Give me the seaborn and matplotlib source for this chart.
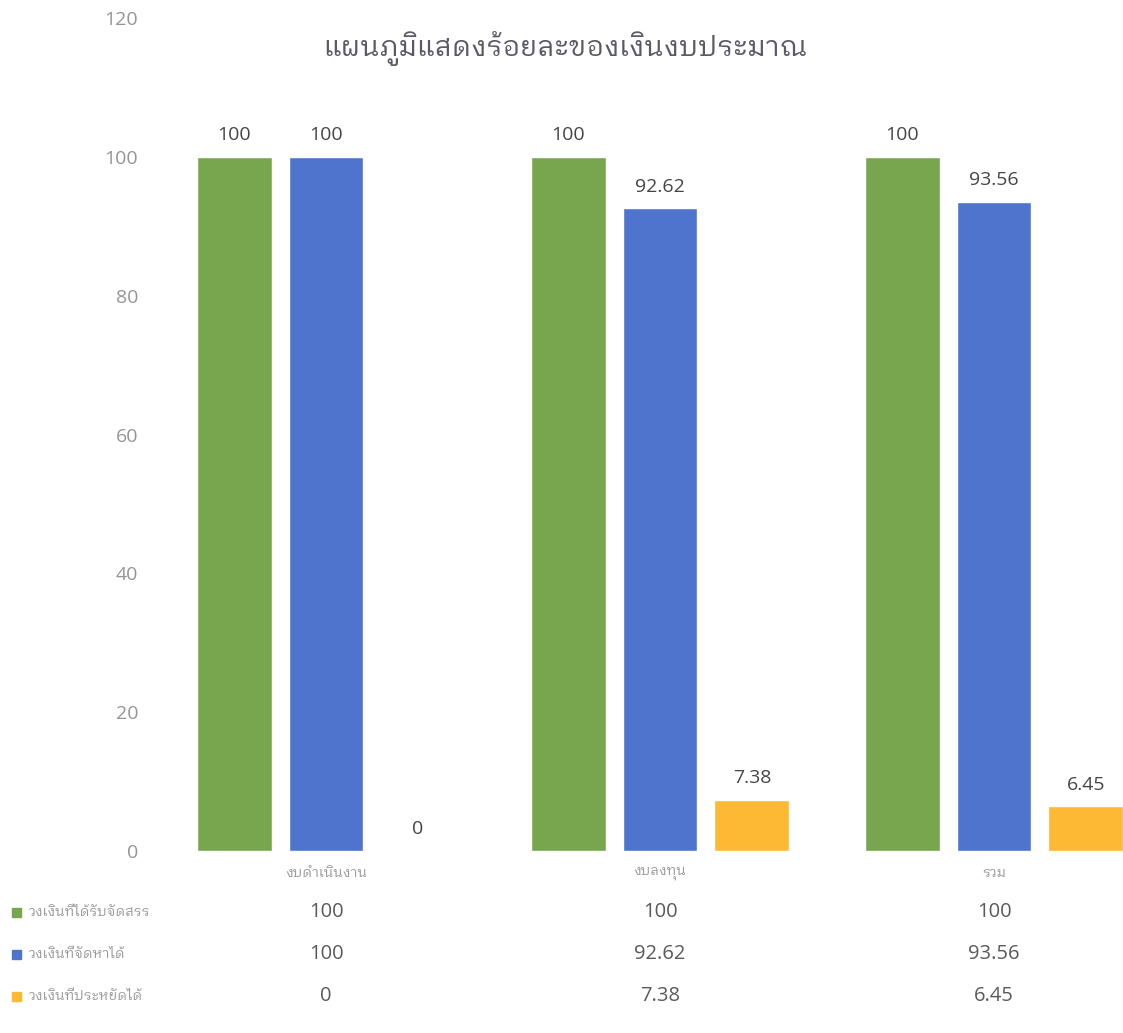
import matplotlib
matplotlib.use("Agg")
import matplotlib.pyplot as plt
import matplotlib.transforms as mtrans
import pandas as pd
import seaborn as sns

# ข้อมูลจากภาพ
categories = ["งบดำเนินงาน", "งบลงทุน", "รวม"]
series_names = ["วงเงินที่ได้รับจัดสรร", "วงเงินที่จัดหาได้", "วงเงินที่ประหยัดได้"]
allocated = [100, 100, 100]
procured = [100, 92.62, 93.56]
saved = [0, 7.38, 6.45]
y_ticks = [0, 20, 40, 60, 80, 100, 120]
title = "แผนภูมิแสดงร้อยละของเงินงบประมาณ"

colors = ["#77A64E", "#4E74CE", "#FDB933"]
THAI = ["IBM Plex Sans Thai Looped", "DejaVu Sans"]
NUM = ["Open Sans", "DejaVu Sans"]

values = [allocated, procured, saved]
rows = []
for name, vals in zip(series_names, values):
    for cat, v in zip(categories, vals):
        rows.append({"category": cat, "series": name, "value": v})
df = pd.DataFrame(rows)

sns.set_style("white")
plt.rcParams["font.family"] = THAI

W, H = 1123, 1033
fig = plt.figure(figsize=(W / 100, H / 100), dpi=100)
left, right, bottom, top = 159, 1123, 851, 18
ax = fig.add_axes([left / W, (H - bottom) / H, (right - left) / W, (bottom - top) / H])

sns.barplot(data=df, x="category", y="value", hue="series",
            order=categories, hue_order=series_names, palette=colors,
            width=0.826, gap=0.185, saturation=1, legend=False, ax=ax)

for cont in ax.containers:
    labels = [f"{b.get_height():g}" for b in cont]
    ax.bar_label(cont, labels=labels, padding=9, fontsize=14,
                 color="#454545", family=NUM)

ax.set_xlim(-0.5, (right - 326) / 334)
ax.set_ylim(0, 120)
ax.set_yticks(y_ticks)
ax.set_yticklabels([str(t) for t in y_ticks], family=NUM, fontsize=14, color="#959595")
ax.tick_params(axis="y", length=0, pad=15)
ax.tick_params(axis="x", length=0, pad=11)
ax.set_xticks(range(len(categories)))
ax.set_xticklabels(categories, fontsize=10, color="#9A9A9A")
ax.set_xlabel("")
ax.set_ylabel("")
for s in ax.spines.values():
    s.set_visible(False)

fig.text(565 / W, 1 - 48 / H, title, ha="center", va="center",
         fontsize=20, color="#5A5A66")

# ตารางข้อมูลใต้กราฟ
row_y = [912, 954, 996]
trans = mtrans.blended_transform_factory(ax.transData, fig.transFigure)
for name, vals, col, ypx in zip(series_names, values, colors, row_y):
    yf = 1 - ypx / H
    fig.patches.append(plt.Rectangle((12 / W, yf - 4.5 / H), 9 / W, 9 / H,
                                     transform=fig.transFigure, color=col))
    fig.text(29 / W, yf, name, ha="left", va="center", fontsize=10, color="#9A9A9A")
    for i, v in enumerate(vals):
        ax.text(i, yf, f"{v:g}", transform=trans, ha="center", va="center",
                fontsize=14.5, color="#5A5A5A", family=NUM, clip_on=False)

fig.savefig("out.png", dpi=100)
